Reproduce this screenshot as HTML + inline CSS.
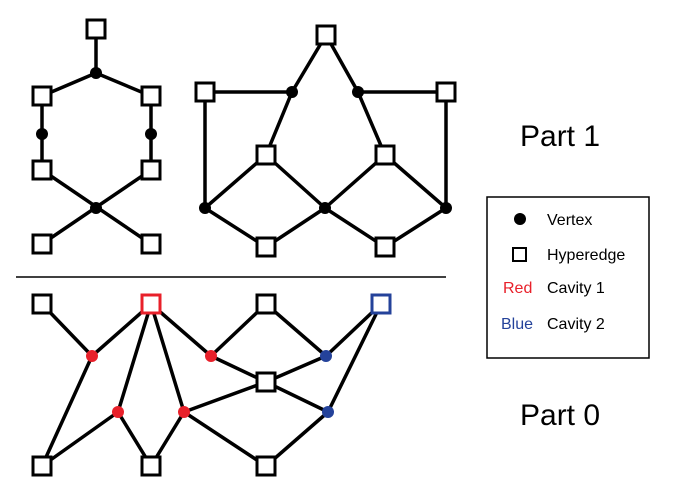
<!DOCTYPE html>
<html><head><meta charset="utf-8"><style>
html,body{margin:0;padding:0;background:#fff;}
svg{display:block;}
text{font-family:"Liberation Sans",sans-serif;}
</style></head><body>
<svg width="682" height="496" viewBox="0 0 682 496" xmlns="http://www.w3.org/2000/svg">
<g stroke="#000" stroke-width="3.5" fill="none" stroke-linecap="round">
<!-- left top graph -->
<line x1="96" y1="29" x2="96" y2="73"/>
<line x1="96" y1="73" x2="42" y2="96"/>
<line x1="96" y1="73" x2="151" y2="96"/>
<line x1="42" y1="96" x2="42" y2="170"/>
<line x1="151" y1="96" x2="151" y2="170"/>
<line x1="42" y1="170" x2="151" y2="244"/>
<line x1="151" y1="170" x2="42" y2="244"/>
<!-- right top graph -->
<line x1="326" y1="35" x2="292" y2="92"/>
<line x1="326" y1="35" x2="358" y2="92"/>
<line x1="205" y1="92" x2="292" y2="92"/>
<line x1="358" y1="92" x2="446" y2="92"/>
<line x1="205" y1="92" x2="205" y2="208"/>
<line x1="446" y1="92" x2="446" y2="208"/>
<line x1="292" y1="92" x2="266" y2="155"/>
<line x1="358" y1="92" x2="385" y2="155"/>
<line x1="266" y1="155" x2="205" y2="208"/>
<line x1="266" y1="155" x2="325" y2="208"/>
<line x1="385" y1="155" x2="325" y2="208"/>
<line x1="385" y1="155" x2="446" y2="208"/>
<line x1="205" y1="208" x2="266" y2="247"/>
<line x1="325" y1="208" x2="266" y2="247"/>
<line x1="325" y1="208" x2="385" y2="247"/>
<line x1="446" y1="208" x2="385" y2="247"/>
<!-- bottom graph -->
<line x1="42" y1="304" x2="92" y2="356"/>
<line x1="151" y1="304" x2="92" y2="356"/>
<line x1="92" y1="356" x2="42" y2="466"/>
<line x1="151" y1="304" x2="118" y2="412"/>
<line x1="151" y1="304" x2="184" y2="412"/>
<line x1="151" y1="304" x2="211" y2="356"/>
<line x1="118" y1="412" x2="42" y2="466"/>
<line x1="118" y1="412" x2="151" y2="466"/>
<line x1="184" y1="412" x2="151" y2="466"/>
<line x1="184" y1="412" x2="266" y2="382"/>
<line x1="184" y1="412" x2="266" y2="466"/>
<line x1="211" y1="356" x2="266" y2="304"/>
<line x1="211" y1="356" x2="266" y2="382"/>
<line x1="266" y1="304" x2="326" y2="356"/>
<line x1="326" y1="356" x2="381" y2="304"/>
<line x1="326" y1="356" x2="266" y2="382"/>
<line x1="266" y1="382" x2="328" y2="412"/>
<line x1="381" y1="304" x2="328" y2="412"/>
<line x1="328" y1="412" x2="266" y2="466"/>
</g>
<line x1="16" y1="277" x2="446" y2="277" stroke="#000" stroke-width="1.5"/>
<!-- squares -->
<g stroke="#000" stroke-width="3" fill="#fff">
<rect x="87" y="20" width="18" height="18"/>
<rect x="33" y="87" width="18" height="18"/>
<rect x="142" y="87" width="18" height="18"/>
<rect x="33" y="161" width="18" height="18"/>
<rect x="142" y="161" width="18" height="18"/>
<rect x="33" y="235" width="18" height="18"/>
<rect x="142" y="235" width="18" height="18"/>
<rect x="317" y="26" width="18" height="18"/>
<rect x="196" y="83" width="18" height="18"/>
<rect x="437" y="83" width="18" height="18"/>
<rect x="257" y="146" width="18" height="18"/>
<rect x="376" y="146" width="18" height="18"/>
<rect x="257" y="238" width="18" height="18"/>
<rect x="376" y="238" width="18" height="18"/>
<rect x="33" y="295" width="18" height="18"/>
<rect x="142" y="295" width="18" height="18" stroke="#e8202a"/>
<rect x="257" y="295" width="18" height="18"/>
<rect x="372" y="295" width="18" height="18" stroke="#24429a"/>
<rect x="257" y="373" width="18" height="18"/>
<rect x="33" y="457" width="18" height="18"/>
<rect x="142" y="457" width="18" height="18"/>
<rect x="257" y="457" width="18" height="18"/>
</g>
<!-- vertices -->
<g fill="#000">
<circle cx="96" cy="73" r="6"/>
<circle cx="42" cy="134" r="6"/>
<circle cx="151" cy="134" r="6"/>
<circle cx="96" cy="208" r="6"/>
<circle cx="292" cy="92" r="6"/>
<circle cx="358" cy="92" r="6"/>
<circle cx="205" cy="208" r="6"/>
<circle cx="325" cy="208" r="6"/>
<circle cx="446" cy="208" r="6"/>
</g>
<g fill="#e8202a">
<circle cx="92" cy="356" r="6"/>
<circle cx="211" cy="356" r="6"/>
<circle cx="118" cy="412" r="6"/>
<circle cx="184" cy="412" r="6"/>
</g>
<g fill="#24429a">
<circle cx="326" cy="356" r="6"/>
<circle cx="328" cy="412" r="6"/>
</g>
<!-- legend -->
<rect x="487" y="197" width="162" height="161" fill="none" stroke="#000" stroke-width="1.5"/>
<circle cx="520" cy="219" r="6" fill="#000"/>
<rect x="513" y="248" width="13" height="13" fill="#fff" stroke="#000" stroke-width="2"/>
<g font-size="16" fill="#000">
<text x="547" y="225">Vertex</text>
<text x="547" y="260">Hyperedge</text>
<text x="547" y="293">Cavity 1</text>
<text x="547" y="329">Cavity 2</text>
</g>
<text x="503" y="293" font-size="16" fill="#e8202a">Red</text>
<text x="501" y="329" font-size="16" fill="#24429a">Blue</text>
<text x="520" y="146" font-size="30" fill="#000">Part 1</text>
<text x="520" y="425" font-size="30" fill="#000">Part 0</text>
</svg>
</body></html>
